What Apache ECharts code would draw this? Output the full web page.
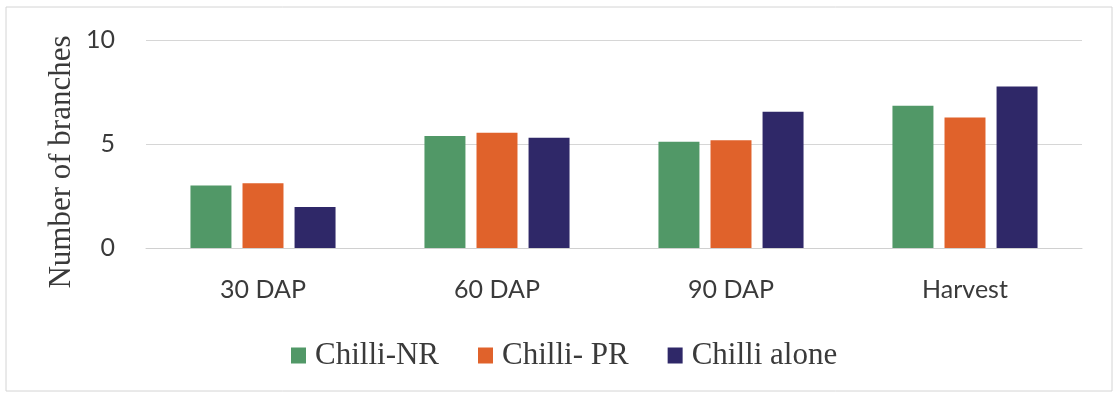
<!DOCTYPE html>
<html>
<head>
<meta charset="utf-8">
<script src="https://cdn.jsdelivr.net/npm/echarts@6/dist/echarts.min.js"></script>
<style>
html,body{margin:0;padding:0;background:#fff;}
#chart{width:1115px;height:393px;}
</style>
</head>
<body>
<div id="chart"></div>
<script>
const categories = ['30 DAP', '60 DAP', '90 DAP', 'Harvest'];
const seriesNames = ['Chilli-NR', 'Chilli- PR', 'Chilli alone'];
const chilliNR = [3.0, 5.38, 5.11, 6.84];
const chilliPR = [3.11, 5.54, 5.18, 6.28];
const chilliAlone = [1.97, 5.30, 6.55, 7.77];
const yTicks = [0, 5, 10];
const colors = ['#519867', '#e0622b', '#2f2868'];

const chart = echarts.init(document.getElementById('chart'));
const values = [chilliNR, chilliPR, chilliAlone];
chart.setOption({
  animation: false,
  backgroundColor: '#fff',
  color: colors,
  grid: { left: 146, right: 33, top: 40, bottom: 145 },
  legend: {
    top: 335,
    left: 286,
    itemWidth: 15,
    itemHeight: 16,
    itemGap: 39,
    icon: 'rect',
    textStyle: { fontFamily: 'Liberation Serif', fontSize: 31, color: '#3a3a3a', padding: [0, 0, 0, 4] },
    data: seriesNames
  },
  graphic: [
    { type: 'rect', shape: { x: 6, y: 7, width: 1106, height: 384 }, style: { fill: 'none', stroke: '#d4d4d4', lineWidth: 1 }, silent: true },
    { type: 'text', x: 62, y: 162, rotation: Math.PI / 2,
      style: { text: 'Number of branches', fontFamily: 'Liberation Serif', fontSize: 31, fill: '#3a3a3a', align: 'center', verticalAlign: 'middle' } }
  ],
  xAxis: {
    type: 'category',
    data: categories,
    axisTick: { show: false },
    axisLine: { lineStyle: { color: '#d0d0d0' } },
    axisLabel: { fontFamily: 'Lato', fontSize: 25, color: '#3a3a3a', margin: 29 }
  },
  yAxis: {
    type: 'value',
    min: yTicks[0],
    max: yTicks[yTicks.length - 1],
    interval: 5,
    axisLine: { show: false },
    axisTick: { show: false },
    splitLine: { lineStyle: { color: '#d6d6d6' } },
    axisLabel: { fontFamily: 'Lato', fontSize: 25, color: '#3a3a3a', margin: 31 }
  },
  series: seriesNames.map((n, i) => ({
    name: n,
    type: 'bar',
    data: values[i],
    barGap: '27%',
    barCategoryGap: '38%'
  }))
});
</script>
</body>
</html>
